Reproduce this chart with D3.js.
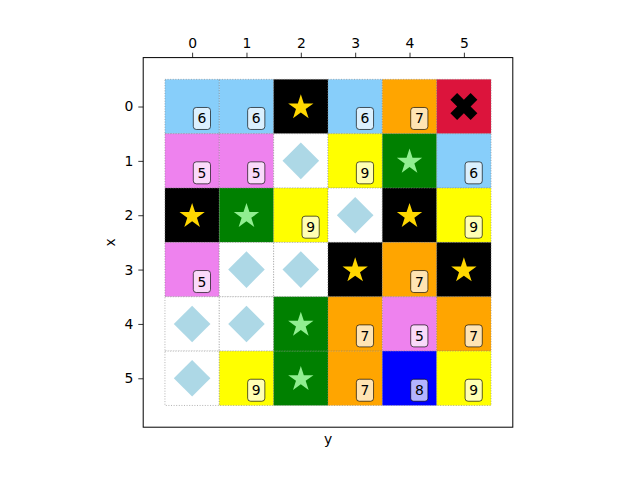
<!DOCTYPE html>
<html><head><meta charset="utf-8">
<script src="https://cdn.jsdelivr.net/npm/d3@7"></script>
<style>body{margin:0;background:#fff}svg{display:block;font-family:"DejaVu Sans",sans-serif}</style>
</head><body><svg id="c" width="640" height="480"></svg>
<script>
// ---- data ----
const rowIdx = [0, 1, 2, 3, 4, 5];
const colIdx = [0, 1, 2, 3, 4, 5];
const tickLabels = ["0", "1", "2", "3", "4", "5"];
const cellColors = [
  ["lightskyblue", "lightskyblue", "black", "lightskyblue", "orange", "crimson"],
  ["violet", "violet", "white", "yellow", "green", "lightskyblue"],
  ["black", "green", "yellow", "white", "black", "yellow"],
  ["violet", "white", "white", "black", "orange", "black"],
  ["white", "white", "green", "orange", "violet", "orange"],
  ["white", "yellow", "green", "orange", "blue", "yellow"]
];
const cellMarks = [
  ["6", "6", "star", "6", "7", "X"],
  ["5", "5", "diamond", "9", "star", "6"],
  ["star", "star", "9", "diamond", "star", "9"],
  ["5", "diamond", "diamond", "star", "7", "star"],
  ["diamond", "diamond", "star", "7", "5", "7"],
  ["diamond", "9", "star", "7", "8", "9"]
];
const xLabel = "y";
const yLabel = "x";

// ---- layout ----
const svg = d3.select("#c");
const L = 143.2, R = 512.8, T = 57.6, B = 427.2;
const x = d3.scaleLinear().domain([-0.9, 5.9]).range([L, R]);
const y = d3.scaleLinear().domain([-0.9, 5.9]).range([T, B]);
const unit = x(1) - x(0);

const cells = [];
rowIdx.forEach(r => colIdx.forEach(c => cells.push({r, c, color: cellColors[r][c], mark: cellMarks[r][c]})));

const g = svg.append("g");
g.selectAll("rect.cell").data(cells).enter().append("rect")
  .attr("class", "cell")
  .attr("x", d => x(d.c - 0.5)).attr("y", d => y(d.r - 0.5))
  .attr("width", unit).attr("height", unit)
  .attr("fill", d => d.color)
  .attr("stroke", "#808080").attr("stroke-width", 0.6)
  .attr("stroke-dasharray", "1,1.6");

function starPath(R0) {
  const r0 = R0 * 0.381966;
  const pts = [];
  for (let i = 0; i < 10; i++) {
    const a = -Math.PI / 2 + i * Math.PI / 5;
    const rr = i % 2 === 0 ? R0 : r0;
    pts.push([rr * Math.cos(a), rr * Math.sin(a)]);
  }
  return "M" + pts.map(p => p.join(",")).join("L") + "Z";
}
function diamondPath(h) {
  return `M0,${-h}L${h},0L0,${h}L${-h},0Z`;
}
function xPath(u) {
  const base = [[-1,-3],[1,-3],[1,-1],[3,-1],[3,1],[1,1],[1,3],[-1,3],[-1,1],[-3,1],[-3,-1],[-1,-1]];
  const s = Math.SQRT1_2;
  const pts = base.map(([a, b]) => [(a - b) * s * u, (a + b) * s * u]);
  return "M" + pts.map(p => p.join(",")).join("L") + "Z";
}

const marks = g.selectAll("g.mark").data(cells).enter().append("g")
  .attr("class", "mark")
  .attr("transform", d => `translate(${x(d.c)},${y(d.r)})`);

marks.filter(d => d.mark === "star").append("path")
  .attr("d", starPath(13.3))
  .attr("transform", "translate(0,1)")
  .attr("fill", d => d.color === "black" ? "gold" : "lightgreen");
marks.filter(d => d.mark === "diamond").append("path")
  .attr("d", diamondPath(18.3)).attr("fill", "lightblue");
marks.filter(d => d.mark === "X").append("path")
  .attr("d", xPath(4.77)).attr("fill", "black");

const nums = marks.filter(d => /^\d$/.test(d.mark)).append("g")
  .attr("transform", `translate(${0.18 * unit},${0.22 * unit})`);
nums.append("rect")
  .attr("x", -8.6).attr("y", -11).attr("width", 17.2).attr("height", 22)
  .attr("rx", 3).attr("ry", 3)
  .attr("fill", "white").attr("fill-opacity", 0.7)
  .attr("stroke", "black").attr("stroke-opacity", 0.65).attr("stroke-width", 1);
nums.append("text")
  .attr("text-anchor", "middle").attr("y", 5)
  .attr("font-size", "13.9px").attr("fill", "black")
  .text(d => d.mark);

// frame
svg.append("rect").attr("x", L).attr("y", T).attr("width", R - L).attr("height", B - T)
  .attr("fill", "none").attr("stroke", "black").attr("stroke-width", 1);

// axes
const xAxis = d3.axisTop(x).tickValues(colIdx).tickFormat((d, i) => tickLabels[i])
  .tickSizeInner(4.9).tickSizeOuter(0).tickPadding(4.9);
const yAxis = d3.axisLeft(y).tickValues(rowIdx).tickFormat((d, i) => tickLabels[i])
  .tickSizeInner(4.9).tickSizeOuter(0).tickPadding(4.9);
const gx = svg.append("g").attr("transform", `translate(0,${T})`).call(xAxis);
const gy = svg.append("g").attr("transform", `translate(${L},0)`).call(yAxis);
[gx, gy].forEach(a => {
  a.select(".domain").remove();
  a.selectAll("text").attr("font-size", "13.9px").attr("font-family", "DejaVu Sans").attr("fill", "black");
  a.selectAll("line").attr("stroke", "black").attr("stroke-width", 0.8);
});

svg.append("text").attr("x", (L + R) / 2).attr("y", 444)
  .attr("text-anchor", "middle").attr("font-size", "13.9px").text(xLabel);
svg.append("text").attr("transform", `translate(115,${(T + B) / 2}) rotate(-90)`)
  .attr("text-anchor", "middle").attr("font-size", "13.9px").text(yLabel);
</script></body></html>
